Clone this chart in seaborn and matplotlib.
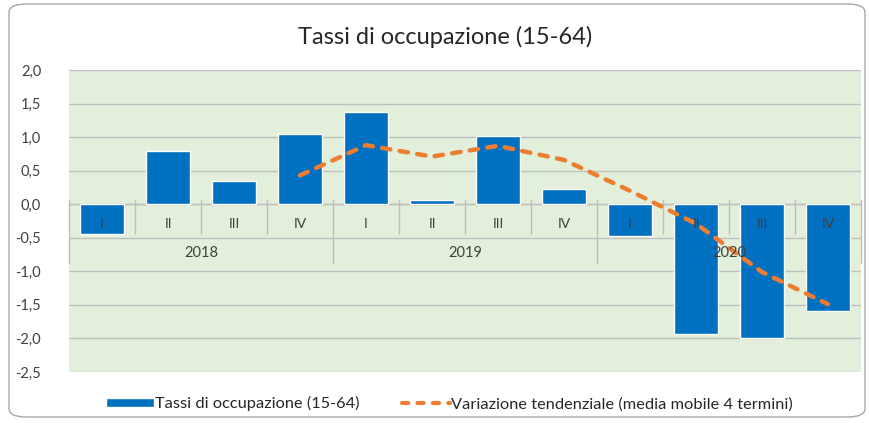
import numpy as np
import pandas as pd
import matplotlib
matplotlib.use('Agg')
import matplotlib.pyplot as plt
import seaborn as sns
from matplotlib.patches import FancyBboxPatch, Patch
from matplotlib.lines import Line2D

# Data
quarters = ['I', 'II', 'III', 'IV'] * 3
years = ['2018', '2019', '2020']
tassi = [-0.44, 0.79, 0.34, 1.04, 1.37, 0.07, 1.01, 0.22, -0.47, -1.94, -1.99, -1.59]
media_mobile = [np.nan, np.nan, np.nan, 0.43, 0.88, 0.71, 0.87, 0.66, 0.20, -0.29, -1.01, -1.49]

df = pd.DataFrame({'pos': range(12), 'quarter': quarters,
                   'tassi': tassi, 'media': media_mobile})

sns.set_style('white')
plt.rcParams['font.family'] = ['Lato', 'DejaVu Sans']

fig = plt.figure(figsize=(8.69, 4.23), dpi=100)
ax = fig.add_axes([69 / 869, 51 / 423, 792 / 869, 302 / 423])
ax.set_facecolor('#E2EFDA')

# Bars
sns.barplot(data=df, x='pos', y='tassi', color='#0070C0', width=0.68,
            saturation=1, ax=ax, zorder=3)

# Moving average line
sns.lineplot(data=df.dropna(), x='pos', y='media', color='#ED7D31', lw=3.2,
             ax=ax, zorder=4, dashes=False)
ax.lines[-1].set_dashes([1.9, 2.1])
ax.lines[-1].set_dash_capstyle('round')

ax.set_xlim(-0.5, 11.5)
ax.set_ylim(-2.5, 2.0)
ax.set_yticks(np.arange(-2.5, 2.01, 0.5))
ax.set_yticklabels([f'{v:.1f}'.replace('.', ',') for v in np.arange(-2.5, 2.01, 0.5)],
                   fontsize=10.5, color='#404040')
ax.tick_params(axis='y', length=0, pad=20)
ax.grid(axis='y', color='#BFBFBF', lw=1, zorder=0)
ax.set_axisbelow(True)
for s in ax.spines.values():
    s.set_visible(False)

# Category axis inside the plot
ax.set_xticks([])
ax.set_xlabel('')
ax.set_ylabel('')
ax.axhline(0, color='#BFBFBF', lw=1, zorder=2)
for i, q in enumerate(quarters):
    ax.text(i, -0.29, q, ha='center', va='center', fontsize=10, color='#404040', zorder=5)
for b in range(13):
    bottom = -0.88 if b % 4 == 0 else -0.44
    ax.plot([b - 0.5, b - 0.5], [0.06, bottom], color='#BFBFBF', lw=1, zorder=2,
            clip_on=False)
for k, y in enumerate(years):
    ax.text(4 * k + 1.5, -0.73, y, ha='center', va='center', fontsize=10.5,
            color='#404040', zorder=5)

# Title
fig.text(0.512, 0.912, 'Tassi di occupazione (15-64)', ha='center', va='center',
         fontsize=17, color='#262626')

# Legend
handles = [Patch(facecolor='#0070C0', label='Tassi di occupazione (15-64)'),
           Line2D([0], [0], color='#ED7D31', lw=3, ls=(0, (1.5, 2.2)),
                  dash_capstyle='round',
                  label='Variazione tendenziale (media mobile 4 termini)')]
fig.legend(handles=handles, loc='center left', bbox_to_anchor=(0.105, 0.045), ncol=2,
           frameon=False, fontsize=11.8, handlelength=2.9, handleheight=0.5,
           handletextpad=0.1, columnspacing=2.6, labelcolor='#262626')

# Rounded outer border
fig.patches.append(FancyBboxPatch((9 / 869, 6 / 423), 856 / 869, 413 / 423,
                                  boxstyle='round,pad=0,rounding_size=0.02',
                                  transform=fig.transFigure, fill=False,
                                  edgecolor='#A6A6A6', lw=1))

fig.savefig('out.png', dpi=100)
